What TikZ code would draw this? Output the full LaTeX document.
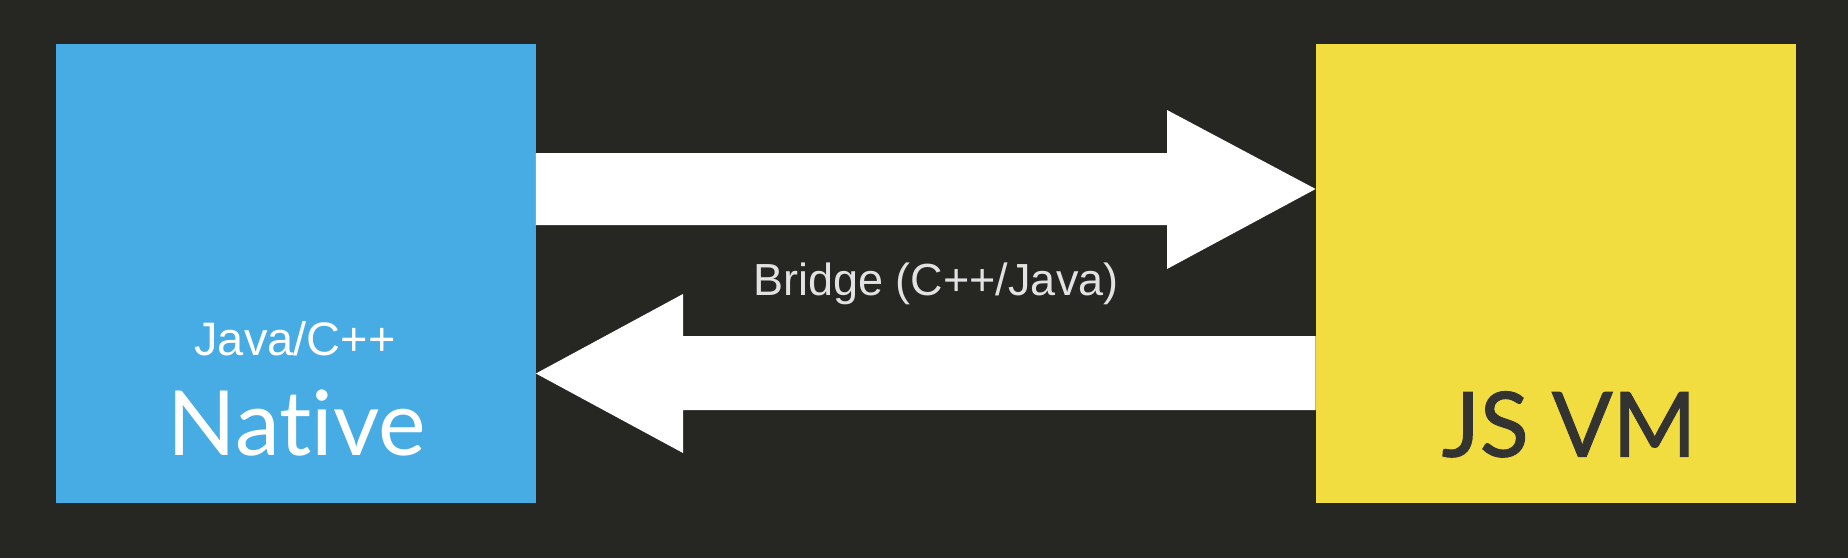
\documentclass[tikz,border=0pt]{standalone}
\usepackage{fontspec}
\setmainfont{Liberation Sans}
\newfontfamily\titlefont[Ligatures=NoCommon]{Lato}
\newfontfamily\titleboldfont[Ligatures=NoCommon,FakeBold=1.2]{Lato}
\definecolor{bgc}{HTML}{262622}
\definecolor{bluec}{HTML}{47ACE3}
\definecolor{yellowc}{HTML}{F1DD40}
\definecolor{darktext}{HTML}{333331}
\definecolor{lighttext}{HTML}{E2E2E2}
\begin{document}
\begin{tikzpicture}[x=0.5pt,y=-0.5pt,
  box/.style={draw=none,inner sep=0pt,minimum width=240pt,minimum height=229.5pt},
  bigarrow/.style={fill=white,draw=none},
  small/.style={font=\fontsize{23.5}{26}\selectfont,text=white,anchor=base,inner sep=0pt},
  big/.style={font=\titlefont\fontsize{45}{50}\selectfont,anchor=base,inner sep=0pt},
  bigdark/.style={font=\titleboldfont\fontsize{45}{50}\selectfont,anchor=base,inner sep=0pt},
  bridge/.style={font=\fontsize{22.5}{26}\selectfont,text=lighttext,anchor=base,inner sep=0pt}]
\fill[bgc] (0,0) rectangle (1848,558);
\useasboundingbox (0,0) rectangle (1848,558);
\node[box,fill=bluec] (native) at (295.5,273.5) {};
\node[box,fill=yellowc] (jsvm) at (1556,273.5) {};
\node[small] (nsub) at (295,355) {Java/C++};
\node[big,text=white] (ntitle) at (297,455.5) {Native};
\node[bigdark,text=darktext] (jtitle) at (1569,456.6) {JS VM};
\node[bridge] (blabel) at (936,295) {Bridge (C++/Java)};
% right arrow: Native -> JS VM
\coordinate (r1) at (native.east |- 0,153);
\coordinate (r2) at (native.east |- 0,225);
\coordinate (rtip) at (jsvm.west |- 0,189);
\fill[bigarrow] (r1) -- (1167,153) -- (1167,110) -- (rtip) -- (1167,269) -- (1167,225) -- (r2) -- cycle;
% left arrow: JS VM -> Native
\coordinate (l1) at (jsvm.west |- 0,336);
\coordinate (l2) at (jsvm.west |- 0,410);
\coordinate (ltip) at (native.east |- 0,373.5);
\fill[bigarrow] (l1) -- (683,336) -- (683,294) -- (ltip) -- (683,453) -- (683,410) -- (l2) -- cycle;
\end{tikzpicture}
\end{document}
